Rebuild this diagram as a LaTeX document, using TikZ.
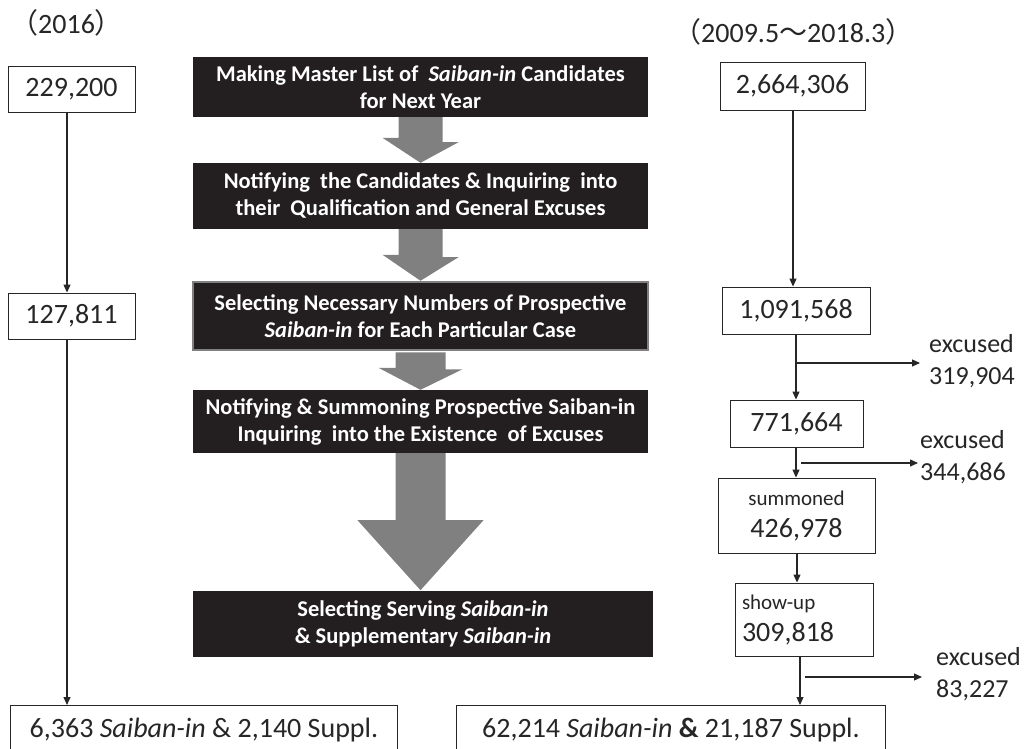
\documentclass[tikz,border=0pt]{standalone}
\usepackage{fontspec}
\setmainfont{Carlito}
\newfontfamily\cjk{Noto Sans CJK JP}
\usetikzlibrary{arrows.meta,calc}
\definecolor{boxblack}{HTML}{231F20}
\definecolor{arrowgray}{HTML}{808080}
\begin{document}
\begin{tikzpicture}[x=1pt,y=-1pt,
  numbox/.style={draw=black!85,line width=0.9pt,fill=white,inner sep=0pt,font=\fontsize{28}{30}\selectfont,text=black!85},
  stepbox/.style={fill=boxblack,inner sep=0pt,text=white,align=center,font=\fontsize{22.5}{27}\selectfont\bfseries,minimum width=455pt},
  conn/.style={draw=black!85,line width=1.1pt},
  arr/.style={conn,-{Triangle[length=8pt,width=7pt]}},
  lbl/.style={inner sep=0pt,align=left,text=black!85,font=\fontsize{26}{32}\selectfont},
]
\useasboundingbox (0,0) rectangle (1025,749);
% headers
\node[lbl,anchor=west,font=\fontsize{28}{30}\selectfont] (h1) at (10,23) {{\cjk （}2016{\cjk ）}};
\node[lbl,anchor=west,font=\fontsize{28}{30}\selectfont] (h2) at (673,32) {{\cjk （}2009.5{\cjk ～}2018.3{\cjk ）}};

% centre step boxes
\node[stepbox,minimum height=60pt] (s1) at (420.5,87) {Making Master List of \ \textit{Saiban-in} Candidates\\for Next Year};
\node[stepbox,minimum height=66pt] (s2) at (420.5,196) {Notifying \ the Candidates \& Inquiring \ into\\their \ Qualification and General Excuses};
\node[stepbox,minimum height=68pt,draw=arrowgray,line width=2.5pt] (s3) at (420.5,316) {Selecting Necessary Numbers of Prospective\\\textit{Saiban-in} for Each Particular Case};
\node[stepbox,minimum height=63pt] (s4) at (420.5,421.5) {Notifying \& Summoning Prospective Saiban-in\\Inquiring \ into the Existence \ of Excuses};
\node[stepbox,minimum height=66pt,minimum width=460pt] (s5) at (423,624) {Selecting Serving \textit{Saiban-in}\\\& Supplementary \textit{Saiban-in}};

% block arrows
\fill[arrowgray] (s1.south)++(-22,0) -- ++(44,0) -- ++(0,25) -- ++(16,0) -- (s2.north) -- ++(-38,-25) -- ++(16,0) -- cycle;
\fill[arrowgray] (s2.south)++(-22,0) -- ++(44,0) -- ++(0,28) -- ++(16,0) -- (s3.north) -- ++(-38,-26) -- ++(16,0) -- cycle;
\fill[arrowgray] (s3.south)++(-25,1) -- ++(50,0) -- ++(0,17) -- ++(17,0) -- (s4.north) -- ++(-42,-22) -- ++(17,0) -- cycle;
\fill[arrowgray] (s4.south)++(-25,0) -- ++(50,0) -- ++(0,67) -- ++(38,0) -- ($(s4.south)+(0,137)$) -- ++(-63,-70) -- ++(38,0) -- cycle;

% left column
\node[numbox,minimum width=127pt,minimum height=46pt] (l1) at (71.5,89) {229,200};
\node[numbox,minimum width=127pt,minimum height=46pt] (l2) at (71.5,316) {127,811};
\node[numbox,minimum width=387pt,minimum height=50pt,anchor=north west] (l3) at (10,705) {6,363 \textit{Saiban-in} \& 2,140 Suppl.};
\draw[arr] (l1.south -| 67,0) -- (l2.north -| 67,0);
\draw[arr] (l2.south -| 67,0) -- (l3.north -| 67,0);

% right column
\node[numbox,minimum width=145pt,minimum height=48pt] (r1) at (792.5,86) {2,664,306};
\node[numbox,minimum width=148pt,minimum height=47pt] (r2) at (796,310.5) {1,091,568};
\node[numbox,minimum width=133pt,minimum height=47pt] (r3) at (796.5,423.5) {771,664};
\node[numbox,minimum width=157pt,minimum height=75pt,align=center] (r4) at (796.5,515.5) {{\fontsize{21}{24}\selectfont summoned}\\[2pt]426,978};
\node[numbox,minimum width=138pt,minimum height=73pt,text width=124pt,align=left] (r5) at (804,619.5) {{\fontsize{21}{24}\selectfont show-up}\\[2pt]309,818};
\node[numbox,minimum width=429pt,minimum height=50pt,anchor=north west] (r6) at (456,705) {62,214 \textit{Saiban-in} \textbf{\&} 21,187 Suppl.};

\draw[arr] (r1.south -| 793,0) -- (r2.north -| 793,0);
\draw[arr] (r2.south -| 796,0) -- (r3.north -| 796,0);
\draw[arr] (r3.south -| 796,0) -- (r4.north -| 796,0);
\draw[arr] (r4.south -| 797,0) -- (r5.north -| 797,0);
\draw[arr] (r5.south -| 800,0) -- (r6.north -| 800,0);

% excused branches
\coordinate (b1) at (796,363);
\coordinate (b2) at (801,463);
\coordinate (b3) at (805,677);
\node[lbl,anchor=west] (e1) at (929,361) {excused\\319,904};
\node[lbl,anchor=west] (e2) at (920,457) {excused\\344,686};
\node[lbl,anchor=west] (e3) at (936,674) {excused\\83,227};
\draw[arr] (b1) -- (b1 -| 920,0);
\draw[arr] (b2) -- (b2 -| 918,0);
\draw[arr] (b3) -- (b3 -| 922,0);
\end{tikzpicture}
\end{document}
